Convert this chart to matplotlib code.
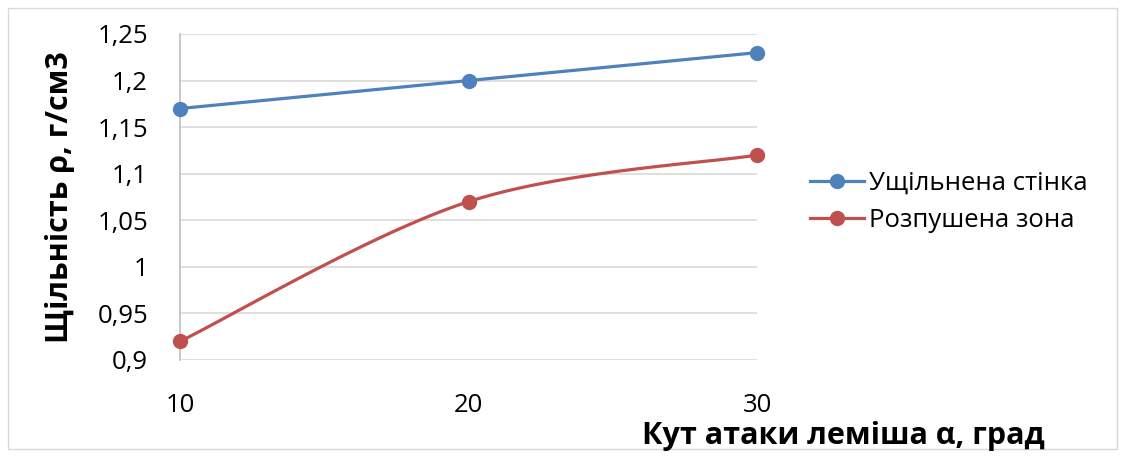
import numpy as np
import matplotlib.pyplot as plt
from matplotlib.patches import Rectangle
from matplotlib.ticker import FuncFormatter

# attack angle, degrees
angles = [10, 20, 30]
# density, g/cm3
compacted_wall = [1.17, 1.20, 1.23]
loosened_zone = [0.92, 1.07, 1.12]

series_names = ['Ущільнена стінка', 'Розпушена зона']
series_colors = ['#4F81BD', '#C0504D']

plt.rcParams['font.family'] = ['Open Sans', 'DejaVu Sans']


def smooth(x, y, n=60):
    """Bezier smoothing between points, like a spreadsheet smoothed line."""
    x = np.asarray(x, float)
    y = np.asarray(y, float)
    px = np.concatenate([[x[0]], x, [x[-1]]])
    py = np.concatenate([[y[0]], y, [y[-1]]])
    xs, ys = [], []
    t = np.linspace(0, 1, n)
    for i in range(len(x) - 1):
        p0 = np.array([x[i], y[i]])
        p3 = np.array([x[i + 1], y[i + 1]])
        p1 = p0 + (np.array([px[i + 2], py[i + 2]]) - np.array([px[i], py[i]])) / 6
        p2 = p3 - (np.array([px[i + 3], py[i + 3]]) - np.array([px[i + 1], py[i + 1]])) / 6
        b = ((1 - t) ** 3)[:, None] * p0 + (3 * (1 - t) ** 2 * t)[:, None] * p1 \
            + (3 * (1 - t) * t ** 2)[:, None] * p2 + (t ** 3)[:, None] * p3
        xs.append(b[:, 0])
        ys.append(b[:, 1])
    return np.concatenate(xs), np.concatenate(ys)


fig = plt.figure(figsize=(11.25, 4.57), dpi=100)
fig.patches.append(Rectangle((8 / 1125, 8 / 457), 1109 / 1125, 441 / 457,
                             transform=fig.transFigure, fill=False,
                             edgecolor='#D9D9D9', linewidth=1))
ax = fig.add_axes([180 / 1125, 1 - 360 / 457, 577 / 1125, 326 / 457])

for vals, name, color in zip([compacted_wall, loosened_zone], series_names, series_colors):
    sx, sy = smooth(angles, vals)
    ax.plot(sx, sy, color=color, linewidth=2.3, solid_capstyle='round', clip_on=False)
    ax.plot(angles, vals, 'o', color=color, markersize=10, clip_on=False, zorder=3)
    ax.plot([], [], '-o', color=color, linewidth=2.3, markersize=10, label=name)

ax.set_xlim(10, 30)
ax.set_ylim(0.9, 1.25)
ax.set_xticks(angles)
ax.set_yticks(np.arange(0.9, 1.2501, 0.05))
ax.yaxis.set_major_formatter(FuncFormatter(lambda v, p: f'{v:g}'.replace('.', ',')))
ax.grid(axis='y', color='#D9D9D9', linewidth=1.2)
ax.set_axisbelow(True)
for s in ['top', 'right', 'bottom']:
    ax.spines[s].set_visible(False)
ax.spines['left'].set_color('#BFBFBF')
ax.spines['left'].set_linewidth(1.2)
ax.tick_params(length=0, labelsize=18.5)
ax.tick_params(axis='y', pad=23)
ax.tick_params(axis='x', pad=24)

ax.set_ylabel('Щільність ρ, г/см3', fontsize=22, fontweight='bold', labelpad=16)
fig.text(1045 / 1125, 1 - 436 / 457, 'Кут атаки леміша α, град', fontsize=22,
         fontweight='bold', ha='right', va='center')

ax.legend(loc='center left', bbox_to_anchor=(787 / 1125, 1 - 202 / 457),
          bbox_transform=fig.transFigure, frameon=False, fontsize=18.5,
          handlelength=2.1, handletextpad=0.2, labelspacing=0.45)

fig.savefig('out.png', dpi=100)
